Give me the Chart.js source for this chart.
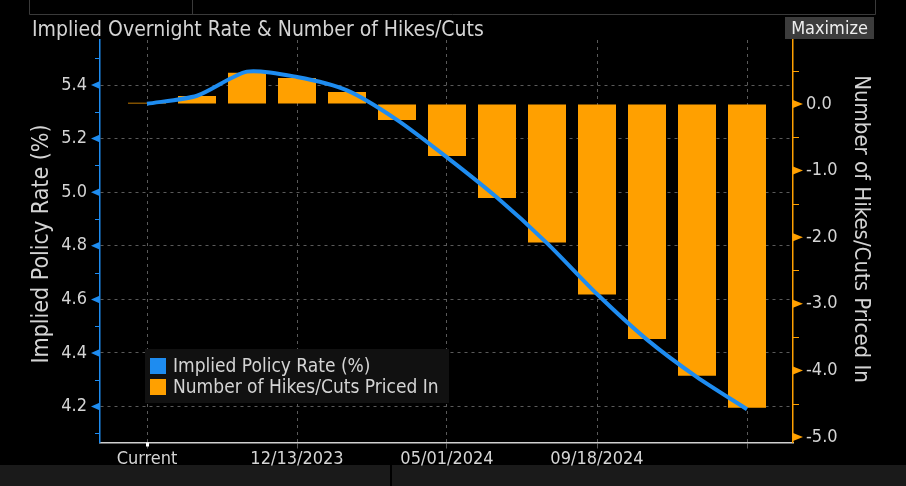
<!DOCTYPE html>
<html>
<head>
<meta charset="utf-8">
<script src="https://cdn.jsdelivr.net/npm/chart.js@4.4.0/dist/chart.umd.min.js"></script>
<style>
  html, body { margin: 0; padding: 0; background: #000; }
  #wrap { position: relative; width: 906px; height: 486px; }
</style>
</head>
<body>
<div id="wrap"><canvas id="c" width="906" height="486"></canvas></div>
<script>
// meeting dates (x categories)
const categories = ['Current', '09/20/2023', '11/01/2023', '12/13/2023', '01/31/2024', '03/20/2024',
  '05/01/2024', '06/12/2024', '07/31/2024', '09/18/2024', '11/07/2024', '12/18/2024', '01/29/2025'];
// implied policy rate (%), left axis
const impliedRate = [5.33, 5.36, 5.45, 5.43, 5.38, 5.27, 5.13, 4.98, 4.81, 4.62, 4.45, 4.31, 4.19];
// number of hikes/cuts priced in, right axis
const hikesCuts = [0.02, 0.12, 0.47, 0.39, 0.18, -0.24, -0.78, -1.41, -2.08, -2.86, -3.53, -4.08, -4.56];
// tick labels
const xTickIdx = [0, 3, 6, 9, 12];
const xTickText = ['Current', '12/13/2023', '05/01/2024', '09/18/2024', ''];
const leftTicks = [4.2, 4.4, 4.6, 4.8, 5.0, 5.2, 5.4];
const rightTicks = [0, -1, -2, -3, -4, -5];

const FONT = '"Liberation Sans Narrow", "DejaVu Sans Condensed", "Roboto Condensed", sans-serif';
const BLUE = '#1e8cf0';
const ORANGE = '#ffa000';
const TXT = '#d4d4d4';

const decor = {
  id: 'decor',
  beforeDraw(chart) {
    const ctx = chart.ctx;
    ctx.save();
    // top panel
    ctx.strokeStyle = '#3a3a3a';
    ctx.lineWidth = 1;
    ctx.beginPath();
    ctx.moveTo(29.5, 0); ctx.lineTo(29.5, 14.5); ctx.lineTo(875.5, 14.5); ctx.lineTo(875.5, 0);
    ctx.moveTo(192.5, 0); ctx.lineTo(192.5, 14.5);
    ctx.stroke();
    // bottom panel
    ctx.fillStyle = '#1a1a1a';
    ctx.fillRect(0, 465, 906, 21);
    ctx.fillStyle = '#000';
    ctx.fillRect(390, 465, 2, 21);
    // title
    ctx.fillStyle = TXT;
    ctx.font = '21px ' + FONT;
    ctx.textBaseline = 'alphabetic';
    ctx.fillText('Implied Overnight Rate & Number of Hikes/Cuts', 32, 36);
    // Maximize button
    ctx.fillStyle = '#3c3c3c';
    ctx.fillRect(785, 17, 89, 22);
    ctx.fillStyle = '#eeeeee';
    ctx.font = '18px ' + FONT;
    ctx.textAlign = 'center';
    ctx.fillText('Maximize', 829.5, 34);
    // axis titles
    ctx.fillStyle = TXT;
    ctx.save();
    ctx.font = '23px ' + FONT;
    ctx.translate(42, 244);
    ctx.rotate(-Math.PI / 2);
    ctx.textBaseline = 'middle';
    ctx.fillText('Implied Policy Rate (%)', 0, 0);
    ctx.restore();
    ctx.save();
    ctx.font = '22px ' + FONT;
    ctx.translate(861, 229);
    ctx.rotate(Math.PI / 2);
    ctx.textBaseline = 'middle';
    ctx.fillText('Number of Hikes/Cuts Priced In', 0, 0);
    ctx.restore();
    ctx.restore();
  },
  afterDraw(chart) {
    const ctx = chart.ctx;
    const yl = chart.scales.y, yr = chart.scales.y2, xs = chart.scales.x;
    const xl = chart.chartArea.left, xr = chart.chartArea.right, yb = chart.chartArea.bottom;
    ctx.save();
    // left axis marks
    ctx.fillStyle = BLUE; ctx.strokeStyle = BLUE; ctx.lineWidth = 1;
    leftTicks.forEach(v => {
      const p = yl.getPixelForValue(v);
      ctx.beginPath(); ctx.moveTo(xl, p - 4); ctx.lineTo(xl, p + 4); ctx.lineTo(xl - 9, p); ctx.closePath(); ctx.fill();
    });
    for (let v = 4.1; v < 5.6; v += 0.2) {
      const p = Math.round(yl.getPixelForValue(v)) + 0.5;
      ctx.beginPath(); ctx.moveTo(xl - 5, p); ctx.lineTo(xl, p); ctx.stroke();
    }
    // right axis marks
    ctx.fillStyle = ORANGE; ctx.strokeStyle = ORANGE;
    rightTicks.forEach(v => {
      const p = yr.getPixelForValue(v);
      ctx.beginPath(); ctx.moveTo(xr, p - 4); ctx.lineTo(xr, p + 4); ctx.lineTo(xr + 10, p); ctx.closePath(); ctx.fill();
    });
    for (let v = 0.5; v > -5.1; v -= 1) {
      const p = Math.round(yr.getPixelForValue(v)) + 0.5;
      ctx.beginPath(); ctx.moveTo(xr, p); ctx.lineTo(xr + 6, p); ctx.stroke();
    }
    // current-date marker on the x axis
    ctx.fillStyle = '#ffffff';
    ctx.fillRect(Math.round(xs.getPixelForValue(0)) - 1, yb, 3, 4);
    // legend
    const items = chart.data.datasets.map(d => ({ text: d.label, color: d.legendColor }));
    ctx.fillStyle = '#111111';
    ctx.fillRect(145, 349, 304, 54);
    ctx.font = '19px ' + FONT;
    ctx.textBaseline = 'middle';
    items.forEach((it, i) => {
      const cy = 366 + i * 21;
      ctx.fillStyle = it.color;
      ctx.fillRect(150, cy - 8, 16, 16);
      ctx.fillStyle = TXT;
      ctx.fillText(it.text, 173, cy + 1);
    });
    ctx.restore();
  }
};

const xy = arr => arr.map((v, i) => ({ x: i, y: v }));

new Chart(document.getElementById('c'), {
  type: 'bar',
  data: {
    datasets: [
      {
        type: 'line', label: 'Implied Policy Rate (%)', data: xy(impliedRate), yAxisID: 'y',
        borderColor: BLUE, borderWidth: 4, pointRadius: 0, tension: 0.25, order: 0, legendColor: BLUE
      },
      {
        type: 'bar', label: 'Number of Hikes/Cuts Priced In', data: xy(hikesCuts), yAxisID: 'y2',
        backgroundColor: ORANGE, categoryPercentage: 1, barPercentage: 0.76, order: 1, legendColor: ORANGE
      }
    ]
  },
  options: {
    responsive: false,
    animation: false,
    layout: { padding: { top: 40, left: 0, right: 0, bottom: 0 } },
    plugins: { legend: { display: false }, tooltip: { enabled: false } },
    scales: {
      x: {
        type: 'linear', min: -0.94, max: 12.92, offset: false,
        afterBuildTicks: s => { s.ticks = xTickIdx.map(v => ({ value: v })); },
        afterFit: s => { s.height = 43.5; },
        ticks: { color: TXT, font: { family: FONT, size: 18 }, padding: 0, maxRotation: 0, autoSkip: false,
          callback: v => xTickText[xTickIdx.indexOf(v)] },
        grid: { offset: false, color: '#5a5a5a', tickLength: 6, tickColor: '#5a5a5a', drawOnChartArea: true },
        border: { color: '#d0d0d0', width: 1.5, dash: [3, 4] }
      },
      y: {
        position: 'left', min: 4.066, max: 5.568,
        afterBuildTicks: s => { s.ticks = leftTicks.map(v => ({ value: v })); },
        afterFit: s => { s.width = 100; },
        ticks: { color: TXT, font: { family: FONT, size: 18 }, padding: 13, callback: v => v.toFixed(1) },
        grid: { color: '#5a5a5a', drawTicks: false },
        border: { color: BLUE, width: 1.5, dash: [3, 4] }
      },
      y2: {
        position: 'right', min: -5.083, max: 0.961,
        afterBuildTicks: s => { s.ticks = rightTicks.map(v => ({ value: v })); },
        afterFit: s => { s.width = 113; },
        ticks: { color: TXT, font: { family: FONT, size: 18 }, padding: 13, callback: v => v.toFixed(1) },
        grid: { drawOnChartArea: false, drawTicks: false },
        border: { color: ORANGE, width: 1.5 }
      }
    }
  },
  plugins: [decor]
});
</script>
</body>
</html>
